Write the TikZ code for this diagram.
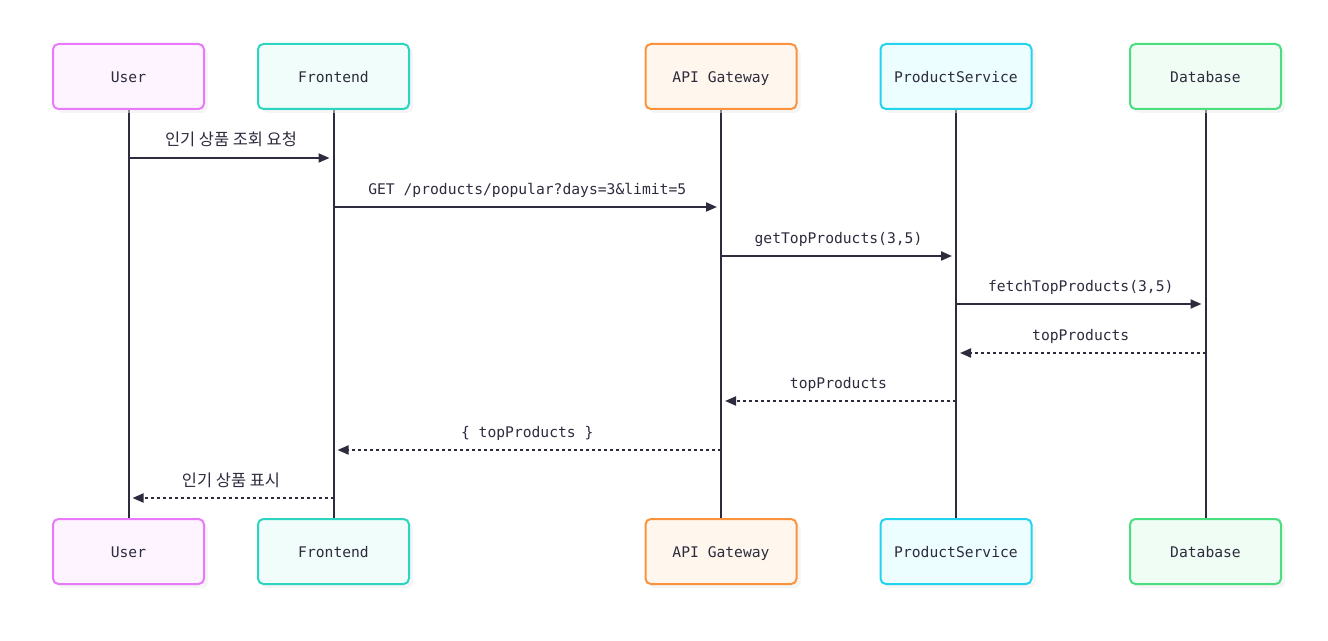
\documentclass[tikz,border=0pt]{standalone}
\usepackage{fontspec}
\setmainfont{DejaVu Sans Mono}
\newfontfamily\kr{Noto Sans CJK KR}[Scale=1.12]
\usetikzlibrary{shadows, arrows.meta}
\definecolor{ink}{HTML}{2D2B3D}
\definecolor{userline}{HTML}{E879F9}\definecolor{userfill}{HTML}{FDF4FF}
\definecolor{frontline}{HTML}{2DD4BF}\definecolor{frontfill}{HTML}{F0FDFA}
\definecolor{apiline}{HTML}{FB923C}\definecolor{apifill}{HTML}{FFF7ED}
\definecolor{prodline}{HTML}{22D3EE}\definecolor{prodfill}{HTML}{ECFEFF}
\definecolor{dbline}{HTML}{4ADE80}\definecolor{dbfill}{HTML}{F0FDF4}
\tikzset{>={Triangle[length=8.25pt,width=6.75pt]}}
\tikzset{
    actor/.style={draw=#1line, fill=#1fill, rounded corners=4pt, line width=1.5pt,
        minimum width=113.25pt, minimum height=48.75pt, text=ink,
        text height=10.5pt, text depth=1.7pt,
        drop shadow={shadow xshift=3pt, shadow yshift=-3pt, fill=black!8}},
    life/.style={ink, line width=1.5pt},
    call/.style={ink, line width=1.5pt, ->, shorten >=3pt},
    reply/.style={call, dash pattern=on 2.25pt off 2.25pt},
    lbl/.style={midway, anchor=base, yshift=9pt, text=ink}
}

\begin{document}
\begin{tikzpicture}[x=0.75pt, y=-0.75pt, font=\fontsize{11pt}{13pt}\selectfont]
    \useasboundingbox (0,0) rectangle (1328,641);
    % lifelines first, boxes on top
    \foreach \n/\x in {user/128.5, front/333.5, api/721, prod/956, db/1205.5}
    \draw[life] (\x,76.5) -- (\x,551.5);
    \node[actor=user]  (userT)  at (128.5,76.5) {User};
    \node[actor=front] (frontT) at (333.5,76.5) {Frontend};
    \node[actor=api]   (apiT)   at (721,76.5)   {API Gateway};
    \node[actor=prod]  (prodT)  at (956,76.5)   {ProductService};
    \node[actor=db]    (dbT)    at (1205.5,76.5) {Database};
    \node[actor=user]  (userB)  at (128.5,551.5) {User};
    \node[actor=front] (frontB) at (333.5,551.5) {Frontend};
    \node[actor=api]   (apiB)   at (721,551.5)   {API Gateway};
    \node[actor=prod]  (prodB)  at (956,551.5)   {ProductService};
    \node[actor=db]    (dbB)    at (1205.5,551.5) {Database};
    % message rows
    \coordinate (m1) at (0,158);
    \coordinate (m2) at (0,207);
    \coordinate (m3) at (0,256);
    \coordinate (m4) at (0,304);
    \coordinate (m5) at (0,353);
    \coordinate (m6) at (0,401);
    \coordinate (m7) at (0,450);
    \coordinate (m8) at (0,498);
    \draw[call]  (userT |- m1) -- (frontT |- m1) node[lbl] {\kr 인기 상품 조회 요청};
    \draw[call]  (frontT |- m2) -- (apiT |- m2) node[lbl] {GET /products/popular?days=3\&limit=5};
    \draw[call]  (apiT |- m3) -- (prodT |- m3) node[lbl] {getTopProducts(3,5)};
    \draw[call]  (prodT |- m4) -- (dbT |- m4) node[lbl] {fetchTopProducts(3,5)};
    \draw[reply] (dbT |- m5) -- (prodT |- m5) node[lbl] {topProducts};
    \draw[reply] (prodT |- m6) -- (apiT |- m6) node[lbl] {topProducts};
    \draw[reply] (apiT |- m7) -- (frontT |- m7) node[lbl] {\{ topProducts \}};
    \draw[reply] (frontT |- m8) -- (userT |- m8) node[lbl] {\kr 인기 상품 표시};
\end{tikzpicture}
\end{document}
